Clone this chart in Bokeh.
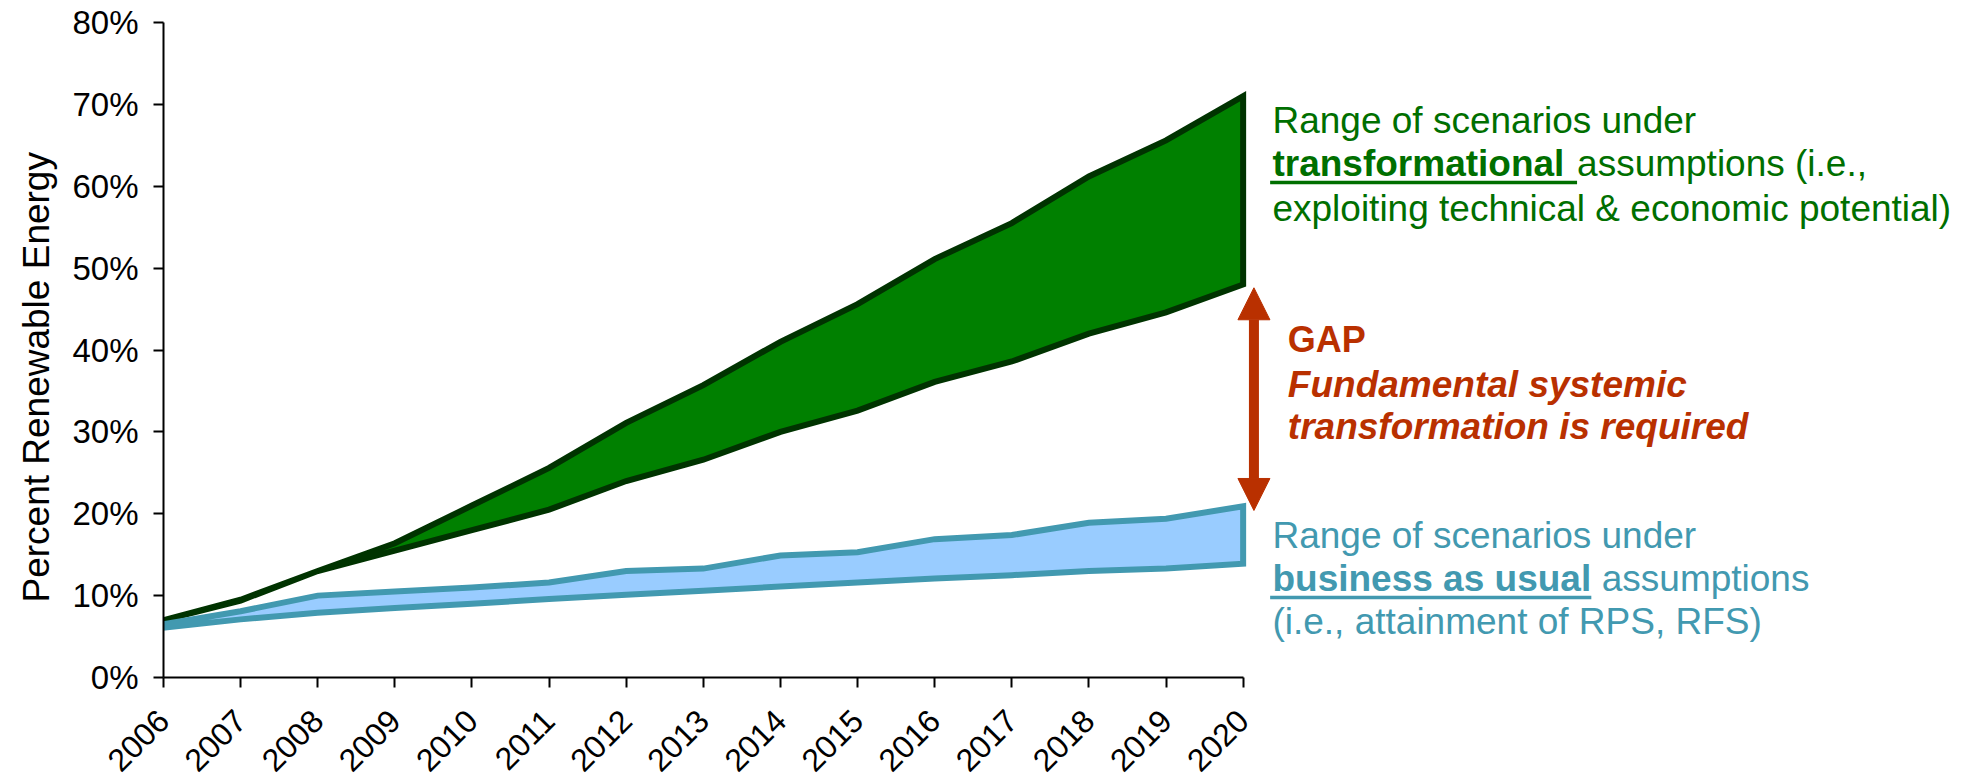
import math
from bokeh.plotting import figure
from bokeh.models import Range1d, FixedTicker, Arrow, NormalHead, Title
from bokeh.core.properties import value
from bokeh.embed import file_html
from bokeh.resources import INLINE

# ---------------- data ----------------
years = [2006, 2007, 2008, 2009, 2010, 2011, 2012, 2013, 2014, 2015, 2016, 2017, 2018, 2019, 2020]
transform_high = [7.0, 9.5, 13.0, 16.4, 21.0, 25.6, 31.1, 35.7, 41.0, 45.6, 51.1, 55.5, 61.2, 65.6, 71.0]
transform_low = [7.0, 9.4, 13.0, 15.5, 18.0, 20.5, 24.0, 26.6, 30.0, 32.6, 36.1, 38.6, 42.0, 44.6, 48.0]
bau_high = [6.5, 8.1, 10.0, 10.5, 11.0, 11.6, 13.0, 13.3, 14.9, 15.3, 16.9, 17.4, 18.9, 19.4, 20.9]
bau_low = [6.1, 7.1, 7.9, 8.5, 9.0, 9.6, 10.1, 10.6, 11.1, 11.6, 12.1, 12.5, 13.0, 13.3, 13.9]
y_ticks = [0, 10, 20, 30, 40, 50, 60, 70, 80]
y_tick_labels = ["0%", "10%", "20%", "30%", "40%", "50%", "60%", "70%", "80%"]
x_tick_labels = [str(y) for y in years]
y_axis_title = "Percent Renewable Energy"

# ---------------- style ----------------
FONT = "Liberation Sans"
GREEN_FILL = "#008000"
GREEN_LINE = "#003300"
GREEN_TEXT = "#006F00"
BLUE_FILL = "#99CCFF"
BLUE_LINE = "#4299B0"
BLUE_TEXT = "#4299B0"
RED = "#B93000"
ANN_SIZE = "37px"

p = figure(width=1966, height=784, output_backend="svg", toolbar_location=None,
           x_range=Range1d(2006, 2029.38), y_range=Range1d(0, 80),
           min_border_left=163, min_border_right=0, min_border_top=22, min_border_bottom=107)
p.outline_line_color = None
p.xgrid.visible = False
p.ygrid.visible = False
p.background_fill_color = "white"
p.border_fill_color = "white"

# areas
p.patch(x=years + years[::-1], y=transform_high + transform_low[::-1],
        fill_color=GREEN_FILL, line_color=GREEN_LINE, line_width=6, line_join="miter")
p.patch(x=years + years[::-1], y=bau_high + bau_low[::-1],
        fill_color=BLUE_FILL, line_color=BLUE_LINE, line_width=6, line_join="miter")

# axes
xa = p.xaxis[0]
xa.bounds = (years[0], years[-1])
xa.ticker = FixedTicker(ticks=years)
xa.major_label_overrides = {y: s for y, s in zip(years, x_tick_labels)}
xa.major_label_orientation = math.pi / 4
xa.major_label_text_font = FONT
xa.major_label_text_font_size = "32px"
xa.major_label_text_color = "black"
xa.major_label_standoff = 28
ya = p.yaxis[0]
ya.ticker = FixedTicker(ticks=y_ticks)
ya.major_label_overrides = {t: s for t, s in zip(y_ticks, y_tick_labels)}
ya.major_label_text_font = FONT
ya.major_label_text_font_size = "33px"
ya.major_label_text_color = "black"
ya.major_label_standoff = 15
for ax in (xa, ya):
    ax.axis_line_color = "black"
    ax.axis_line_width = 2
    ax.major_tick_line_color = "black"
    ax.major_tick_line_width = 2
    ax.major_tick_out = 10
    ax.major_tick_in = 0
    ax.minor_tick_line_color = None

# y-axis title (starts lower than the frame centre, as in the original)
p.add_layout(Title(text=y_axis_title, align="left", offset=75, standoff=26,
                   text_font=FONT, text_font_size="37px", text_font_style="normal",
                   text_color="black"), "left")

# ---------------- annotations ----------------
TX = 2020.38

def txt(x, y, s, color, style="normal", size=ANN_SIZE):
    p.text(x=[x], y=[y], text=[s], text_color=color, text_font=value(FONT),
           text_font_size=size, text_font_style=style, text_baseline="alphabetic", text_align="left")

# transformational block
txt(TX, 68.07, "Range of scenarios under", GREEN_TEXT)
txt(TX, 62.77, "transformational", GREEN_TEXT, "bold")
txt(2024.33, 62.77, "assumptions (i.e.,", GREEN_TEXT)
txt(TX, 57.3, "exploiting technical & economic potential)", GREEN_TEXT)
p.line(x=[2020.35, 2024.33], y=[60.46, 60.46], line_color=GREEN_TEXT, line_width=3.5)

# business as usual block
txt(TX, 17.35, "Range of scenarios under", BLUE_TEXT)
txt(TX, 12.1, "business as usual", BLUE_TEXT, "bold")
txt(2024.65, 12.1, "assumptions", BLUE_TEXT)
txt(TX, 6.84, "(i.e., attainment of RPS, RFS)", BLUE_TEXT)
p.line(x=[2020.35, 2024.515], y=[9.77, 9.77], line_color=BLUE_TEXT, line_width=3.5)

# gap block
txt(2020.58, 41.23, "GAP", RED, "bold", "36px")
txt(2020.58, 35.73, "Fundamental systemic", RED, "bold italic", "37px")
txt(2020.58, 30.6, "transformation is required", RED, "bold italic", "37px")

p.add_layout(Arrow(start=NormalHead(size=32, fill_color=RED, line_color=RED, line_width=1),
                   end=NormalHead(size=32, fill_color=RED, line_color=RED, line_width=1),
                   x_start=2020.14, y_start=20.4, x_end=2020.14, y_end=47.6,
                   line_color=RED, line_width=10))

open("out.html", "w").write(file_html(p, INLINE))
